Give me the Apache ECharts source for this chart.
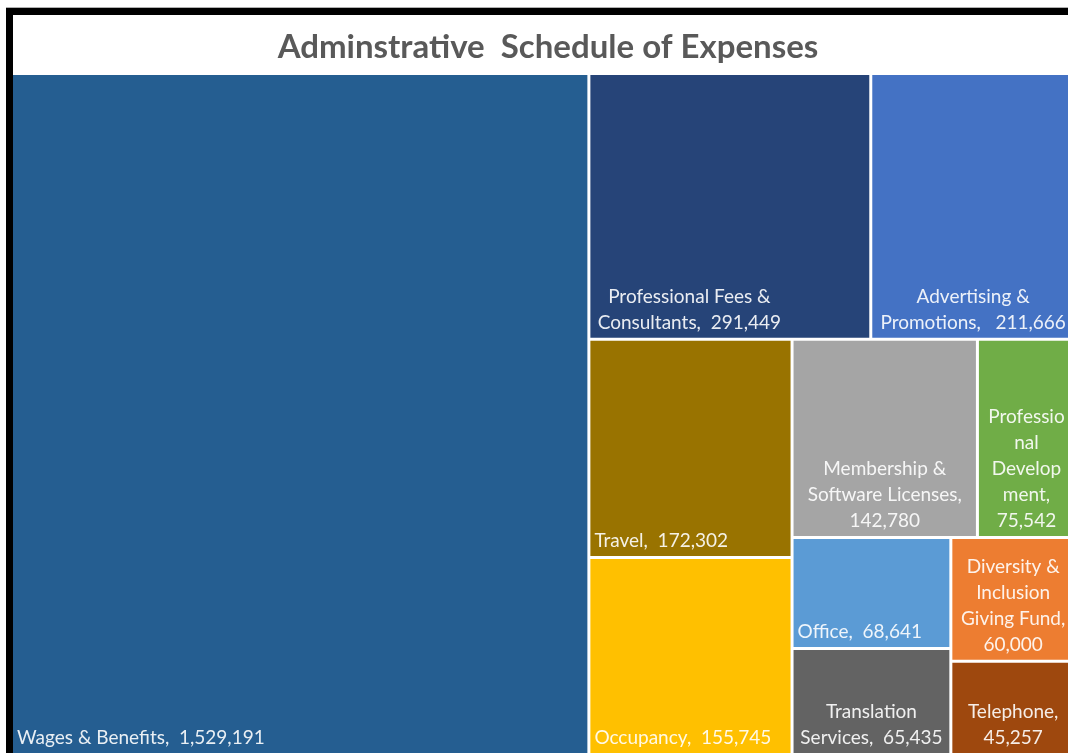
<!DOCTYPE html>
<html>
<head>
<meta charset="utf-8">
<title>Adminstrative Schedule of Expenses</title>
<script src="https://cdn.jsdelivr.net/npm/echarts@6/dist/echarts.min.js"></script>
<style>
  html, body { margin: 0; padding: 0; background: #ffffff; }
  #chart { width: 1068px; height: 753px; }
</style>
</head>
<body>
<div id="chart"></div>
<script>
// Expense categories and amounts
const categories = [
  'Wages & Benefits',
  'Professional Fees & Consultants',
  'Advertising & Promotions',
  'Travel',
  'Occupancy',
  'Membership & Software Licenses',
  'Professional Development',
  'Office',
  'Diversity & Inclusion Giving Fund',
  'Translation Services',
  'Telephone'
];
const amounts = [1529191, 291449, 211666, 172302, 155745, 142780, 75542, 68641, 60000, 65435, 45257];

// Wrapped label names and the separator placed before each amount
const labelNames = [
  'Wages & Benefits',
  'Professional Fees &\nConsultants',
  'Advertising &\nPromotions',
  'Travel',
  'Occupancy',
  'Membership &\nSoftware Licenses',
  'Professio\nnal\nDevelop\nment',
  'Office',
  'Diversity &\nInclusion\nGiving Fund',
  'Translation\nServices',
  'Telephone'
];
const valueSeparators = [',  ', ',  ', ',   ', ',  ', ',  ', ',\n', ',\n', ',  ', ',\n', ',  ', ',\n'];

// Fill colours per category
const colors = ['#255E91', '#264478', '#4472C4', '#997300', '#FFC000', '#A5A5A5',
                '#70AD47', '#5B9BD5', '#ED7D31', '#636363', '#9E480E'];

// Label placement per category: left = bottom-left, center = bottom-centre, block = left block with centred lines
const labelAnchor = ['left', 'block', 'center', 'left', 'left', 'center',
                     'center', 'left', 'center', 'center', 'center'];

const fmt = v => v.toLocaleString('en-US');

const data = categories.map((name, i) => {
  let label;
  if (labelAnchor[i] === 'left') {
    label = { position: 'insideBottomLeft', align: 'left', verticalAlign: 'bottom', offset: [2, 0] };
  } else if (labelAnchor[i] === 'center') {
    label = { position: 'insideBottom', align: 'center', verticalAlign: 'bottom' };
  } else {
    label = { position: [99, '100%'], align: 'center', verticalAlign: 'bottom', offset: [0, -2] };
  }
  return {
    name: name,
    value: amounts[i],
    itemStyle: { color: colors[i] },
    label: label
  };
});

const chart = echarts.init(document.getElementById('chart'), null, { renderer: 'canvas' });

chart.setOption({
  animation: false,
  backgroundColor: '#ffffff',
  title: {
    text: 'Adminstrative  Schedule of Expenses',
    left: 543,
    textAlign: 'center',
    top: 26,
    textStyle: {
      fontFamily: 'Lato',
      fontWeight: 'bold',
      fontSize: 33,
      color: '#595959'
    }
  },
  graphic: [
    { type: 'rect', shape: { x: 6, y: 7, width: 1062, height: 1 }, style: { fill: '#b0b0b0' }, z: 10 },
    { type: 'rect', shape: { x: 6, y: 8, width: 1062, height: 7 }, style: { fill: '#000000' }, z: 10 },
    { type: 'rect', shape: { x: 6, y: 8, width: 7, height: 745 }, style: { fill: '#000000' }, z: 10 }
  ],
  series: [{
    type: 'treemap',
    left: 13,
    top: 75,
    width: 1061,
    height: 678,
    roam: false,
    nodeClick: false,
    silent: true,
    squareRatio: 1,
    sort: 'desc',
    breadcrumb: { show: false },
    emphasis: { disabled: true },
    levels: [{
      itemStyle: { gapWidth: 3, borderWidth: 0, borderColor: '#ffffff' }
    }],
    label: {
      show: true,
      fontFamily: 'Lato',
      fontSize: 19,
      lineHeight: 26,
      color: 'rgba(255,255,255,0.9)',
      padding: 0,
      distance: 2,
      overflow: 'none',
      formatter: p => {
        const i = categories.indexOf(p.name);
        return labelNames[i] + valueSeparators[i] + fmt(amounts[i]);
      }
    },
    data: data
  }]
});
</script>
</body>
</html>
